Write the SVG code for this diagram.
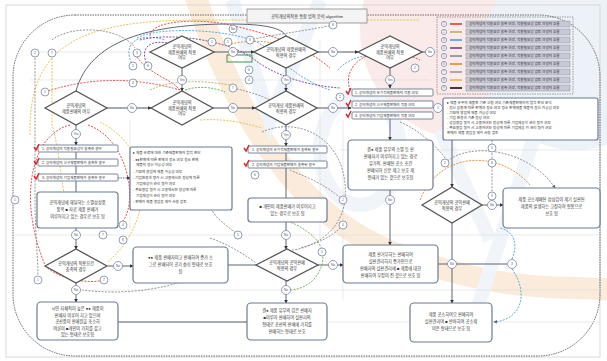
<svg xmlns="http://www.w3.org/2000/svg" width="607" height="361" viewBox="0 0 607 361">
<defs>
<marker id="ah" viewBox="0 0 6 6" refX="5" refY="3" markerWidth="4" markerHeight="4" orient="auto"><path d="M0,0 L6,3 L0,6 z" fill="#333"/></marker>
<marker id="ahg" viewBox="0 0 6 6" refX="5" refY="3" markerWidth="4" markerHeight="4" orient="auto"><path d="M0,0 L6,3 L0,6 z" fill="#666"/></marker>
<style>
.t{font-family:"Liberation Sans","Noto Sans CJK KR",sans-serif;font-size:4.2px;fill:#333;text-anchor:middle}
.ts{font-family:"Liberation Sans","Noto Sans CJK KR",sans-serif;font-size:3.6px;fill:#333}
.tc{font-family:"Liberation Sans","Noto Sans CJK KR",sans-serif;font-size:3.2px;fill:#556;text-anchor:middle}
.dia{fill:#fff;stroke:#555;stroke-width:1.3}
.box{fill:#fff;stroke:#6b7a90;stroke-width:1.2}
.chk{fill:#fff;stroke:#6b7a90;stroke-width:0.9}
.cir{fill:#fff;stroke:#7a88a6;stroke-width:0.8}
.ln{fill:none;stroke:#4a5568;stroke-width:0.9}
.gl{fill:none;stroke:#dcdcdc;stroke-width:0.6}
.d{fill:none;stroke-width:0.9;stroke-dasharray:2,1.3}
.red{stroke:#e03c3c}.yel{stroke:#e0c040}.blu{stroke:#4aa0d8}.pur{stroke:#7a3a9a}.gry{stroke:#8a8a8a}.org{stroke:#e8842c}.grn{stroke:#6aa84f}.kha{stroke:#b8b060}
.leg{fill:#c9c9d4;stroke:#8a8aa6;stroke-width:0.5}
.ck{fill:none;stroke:#d42a2a;stroke-width:1.4}
</style>
</defs>
<rect x="0" y="0" width="607" height="361" fill="#fff"/>
<!-- watermark shapes -->
<g id="watermark" opacity="0.4">
<circle cx="470" cy="30" r="110" fill="#f4cccc"/>
<circle cx="575" cy="55" r="95" fill="#d3e0f0"/>
<path d="M195,-5 C230,100 290,215 400,255 S560,285 612,290" fill="none" stroke="#f6cfa4" stroke-width="22"/>
<path d="M232,0 L270,120 L320,0" fill="none" stroke="#d8e5f3" stroke-width="14"/>
<ellipse cx="360" cy="150" rx="40" ry="55" fill="none" stroke="#dde8f4" stroke-width="14"/>
<path d="M440,130 L490,240 M540,120 L470,330" fill="none" stroke="#dde8f4" stroke-width="14"/>
</g>
<!-- frame -->
<rect x="6" y="5" width="594" height="352" fill="none" stroke="#cfcfcf" stroke-width="0.8"/>
<rect x="13" y="15" width="587" height="341" rx="62" fill="none" stroke="#666" stroke-width="1" stroke-dasharray="1.5,1"/>
<!-- guide lines -->
<g id="guides">
<path class="gl" d="M30,52 L440,52 M100,108 L350,108 M30,80 L430,80 M130,120 L130,230 M343,120 L343,300 M320,40 L320,240 M120,322 L600,322 M90,290 L600,290 M15,235 L600,235 M340,150 L600,150"/>
</g>
<!-- connectors -->
<g id="connectors">
<path class="ln" d="M182,68 L182,91" marker-end="url(#ah)"/>
<path class="ln" d="M286,68 L286,91" marker-end="url(#ah)"/>
<path class="ln" d="M390,68 L390,88" marker-end="url(#ah)"/>
<path class="ln" d="M214,52 L254,52" marker-end="url(#ah)"/>
<path class="ln" d="M318,52 L358,52" marker-end="url(#ah)"/>
<path class="ln" d="M422,52 L426,52"/>
<path class="ln" d="M107,108 L151,108" marker-end="url(#ah)"/>
<path class="ln" d="M213,108 L255,108" marker-end="url(#ah)"/>
<path class="ln" d="M317,108 L351,108" marker-end="url(#ah)"/>
<path class="ln" d="M76,125 L76,145" marker-end="url(#ah)"/>
<path class="ln" d="M76,152 L76,159 M76,166 L76,174 M76,181 L76,192"/>
<path class="ln" d="M76,228 L76,249" marker-end="url(#ah)"/>
<path class="ln" d="M76,282 L76,302" marker-end="url(#ah)"/>
<path class="ln" d="M108,266 L133,266" marker-end="url(#ah)"/>
<path class="ln" d="M118,178 L130,178" stroke-dasharray="1.5,1" marker-end="url(#ah)"/>
<path class="ln" d="M286,125 L286,146" marker-end="url(#ah)"/>
<path class="ln" d="M286,153 L286,161 M286,168 L286,198"/>
<path class="ln" d="M286,222 L286,249" marker-end="url(#ah)"/>
<path class="ln" d="M286,281 L286,303" marker-end="url(#ah)"/>
<path class="ln" d="M318,265 L343,265" marker-end="url(#ah)"/>
<path class="ln" d="M228,265 L256,265"/>
<path class="ln" d="M390,118 L390,140" marker-end="url(#ah)"/>
<path class="ln" d="M390,190 L390,245" marker-end="url(#ah)"/>
<path class="ln" d="M433,108 L443,108" marker-end="url(#ah)"/>
<path class="ln" d="M452,140 L452,187" marker-end="url(#ah)"/>
<path class="ln" d="M482,205 L503,205" marker-end="url(#ah)"/>
<path class="ln" d="M452,223 L452,303" marker-end="url(#ah)"/>
<path class="ln" d="M438,264 L507,264" stroke="#aaa"/>
<path class="ln" d="M118,322 L247,322" stroke="#bbb"/>
<path class="ln" d="M76,91 C90,40 150,24 230,24 C265,24 282,28 286,36" stroke="#6d85a8" stroke-width="1"/>
<!-- dashed curves -->
<path class="d red" d="M45,92 Q110,70 180,90"/>
<path class="d red" d="M137,57 C150,75 170,78 180,90"/>
<path class="d red" d="M70,125 C30,135 18,200 45,265"/>
<path class="d red" d="M88,125 C130,140 138,205 122,222"/>
<path class="d red" d="M45,266 C60,280 90,284 104,280"/>
<path class="d red" d="M150,36 C150,20 200,18 230,25 C260,32 300,42 330,68"/>
<path class="d yel" d="M30,135 C28,45 80,20 200,20 L420,20"/>
<path class="d yel" d="M108,262 C155,220 155,150 100,122"/>
<path class="d yel" d="M52,58 L52,125 C60,150 62,200 70,215"/>
<path class="d yel" d="M200,120 C230,118 250,125 262,128"/>
<path class="d blu" d="M133,66 C120,42 140,32 165,40"/>
<path class="d blu" d="M137,38 C160,25 240,30 262,45 C280,60 300,80 330,90"/>
<path class="d blu" d="M512,269 C530,295 520,320 494,322" marker-end="url(#ahg)"/>
<path class="d blu" d="M512,259 C520,240 510,230 500,228"/>
<path class="d pur" d="M148,66 C138,48 150,38 172,44"/>
<path class="d pur" d="M140,40 C170,32 230,40 255,60 C270,72 300,85 340,88"/>
<path class="d gry" d="M35,58 L35,200 C35,230 38,260 38,275"/>
<path class="d gry" d="M52,40 C70,25 120,26 135,48"/>
<path class="d gry" d="M262,132 C300,115 350,140 345,200 C340,240 300,250 292,250"/>
<path class="d gry" d="M210,238 C230,245 245,255 256,263"/>
<path class="d gry" d="M238,235 C220,220 210,215 210,200"/>
<path class="d gry" d="M82,290 C120,295 180,292 220,262"/>
<path class="d gry" d="M445,163 C470,140 530,150 555,188" marker-end="url(#ahg)"/>
<path class="d gry" d="M400,122 C420,130 440,150 445,158"/>
<path class="d gry" d="M492,140 L492,200"/>
<path class="d gry" d="M343,200 C320,180 300,175 290,170"/>
<path class="d gry" d="M343,225 C330,240 310,245 300,248"/>
<path class="d gry" d="M233,88 C250,92 260,95 270,100"/>
<path class="d gry" d="M250,40 C270,35 300,32 333,25"/>
<path class="d org" d="M420,200 C440,150 500,150 530,185"/>
<path class="d org" d="M228,45 C245,40 265,40 280,45"/>
<path class="d grn" d="M290,290 C318,288 326,262 322,250 C318,236 300,226 290,222"/>
<path class="d grn" d="M185,90 C200,85 215,88 225,92"/>
<path class="d kha" d="M150,90 C170,80 200,80 230,85"/>
<path class="d red" d="M350,90 C340,60 380,40 420,60"/>
<path class="d blu" d="M338,70 C350,55 380,50 400,60"/>
</g>
<rect x="227" y="55" width="25" height="7" fill="none" stroke="#2e8b3a" stroke-width="0.9"/>
<!-- title -->
<g id="title">
<rect x="247" y="9" width="120" height="14" fill="#f4f4f4" stroke="#888" stroke-width="0.8"/>
<text class="t" x="307" y="17.5">공익개념의적용 통합 법적 분석 algorithm</text>
</g>
<!-- legend -->
<g id="legend">
<rect x="437" y="17" width="136" height="77" fill="none" stroke="#777" stroke-width="0.7" stroke-dasharray="1.5,1"/>
<g>
<circle class="cir" cx="444" cy="24" r="2.6"/><text class="tc" x="444" y="25.1">1</text><line x1="450" y1="24" x2="462" y2="24" stroke="#e03c3c" stroke-width="1.6"/><rect class="leg" x="466" y="21" width="104" height="6"/><text class="ts" x="469" y="25.2">공익개념의 적용요건 충족 여부, 적용필요성 검토 과정의 흐름</text>
<circle class="cir" cx="444" cy="32" r="2.6"/><text class="tc" x="444" y="33.1">2</text><line x1="450" y1="32" x2="462" y2="32" stroke="#b8b060" stroke-width="1.6"/><rect class="leg" x="466" y="29" width="104" height="6"/><text class="ts" x="469" y="33.2">공익개념의 적용요건 충족 여부, 적용필요성 검토 과정의 흐름</text>
<circle class="cir" cx="444" cy="40" r="2.6"/><text class="tc" x="444" y="41.1">3</text><line x1="450" y1="40" x2="462" y2="40" stroke="#4aa0d8" stroke-width="1.6"/><rect class="leg" x="466" y="37" width="104" height="6"/><text class="ts" x="469" y="41.2">공익개념의 적용요건 충족 여부, 적용필요성 검토 과정의 흐름</text>
<circle class="cir" cx="444" cy="48" r="2.6"/><text class="tc" x="444" y="49.1">4</text><line x1="450" y1="48" x2="462" y2="48" stroke="#7a3a9a" stroke-width="1.6"/><rect class="leg" x="466" y="45" width="104" height="6"/><text class="ts" x="469" y="49.2">공익개념의 적용요건 충족 여부, 적용필요성 검토 과정의 흐름</text>
<circle class="cir" cx="444" cy="56" r="2.6"/><text class="tc" x="444" y="57.1">5</text><line x1="450" y1="56" x2="462" y2="56" stroke="#8a8a8a" stroke-width="1.6"/><rect class="leg" x="466" y="53" width="104" height="6"/><text class="ts" x="469" y="57.2">공익개념의 적용요건 충족 여부, 적용필요성 검토 과정의 흐름</text>
<circle class="cir" cx="444" cy="64" r="2.6"/><text class="tc" x="444" y="65.1">6</text><line x1="450" y1="64" x2="462" y2="64" stroke="#e8842c" stroke-width="1.6"/><rect class="leg" x="466" y="61" width="104" height="6"/><text class="ts" x="469" y="65.2">공익개념의 적용요건 충족 여부, 적용필요성 검토 과정의 흐름</text>
<circle class="cir" cx="444" cy="72" r="2.6"/><text class="tc" x="444" y="73.1">7</text><line x1="450" y1="72" x2="462" y2="72" stroke="#999" stroke-width="1.6"/><rect class="leg" x="466" y="69" width="104" height="6"/><text class="ts" x="469" y="73.2">공익개념의 적용요건 충족 여부, 적용필요성 검토 과정의 흐름</text>
<circle class="cir" cx="444" cy="80" r="2.6"/><text class="tc" x="444" y="81.1">8</text><line x1="450" y1="80" x2="462" y2="80" stroke="#e0c040" stroke-width="1.6"/><rect class="leg" x="466" y="77" width="104" height="6"/><text class="ts" x="469" y="81.2">공익개념의 적용요건 충족 여부, 적용필요성 검토 과정의 흐름</text>
<circle class="cir" cx="444" cy="88" r="2.6"/><text class="tc" x="444" y="89.1">9</text><line x1="450" y1="88" x2="462" y2="88" stroke="#111" stroke-width="1.6"/><rect class="leg" x="466" y="85" width="104" height="6"/><text class="ts" x="469" y="89.2">공익개념의 적용요건 충족 여부, 적용필요성 검토 과정의 흐름</text>
</g>
</g>
<!-- diamonds -->
<g id="D1"><polygon class="dia" points="150,52 182,36 214,52 182,68"/><text class="t" x="182" y="48">공익개념의</text><text class="t" x="182" y="53.5">제품판매의 적용</text><text class="t" x="182" y="59">여부</text></g>
<g id="D2"><polygon class="dia" points="254,52 286,36 318,52 286,68"/><text class="t" x="286" y="51">공익개념의 제품판매의</text><text class="t" x="286" y="56.5">적용의 경우</text></g>
<g id="D3"><polygon class="dia" points="358,52 390,36 422,52 390,68"/><text class="t" x="390" y="48">공익개념의</text><text class="t" x="390" y="53.5">제품판매의 적용</text><text class="t" x="390" y="59">여부</text></g>
<g id="D4"><polygon class="dia" points="45,108 76,91 107,108 76,125"/><text class="t" x="76" y="107">공익개념의</text><text class="t" x="76" y="112.5">제품판매의 여부</text></g>
<g id="D5"><polygon class="dia" points="151,108 182,91 213,108 182,125"/><text class="t" x="182" y="104">공익개념의</text><text class="t" x="182" y="109.5">제품판매의 적용</text><text class="t" x="182" y="115">여부</text></g>
<g id="D6"><polygon class="dia" points="255,108 286,91 317,108 286,125"/><text class="t" x="286" y="107">공익개념 제품판매의</text><text class="t" x="286" y="112.5">적용의 경우</text></g>
<g id="D8"><polygon class="dia" points="422,205 452,187 482,205 452,223"/><text class="t" x="452" y="204">공익개념의 공익판매</text><text class="t" x="452" y="209.5">적용의 경우</text></g>
<g id="D9"><polygon class="dia" points="45,266 76,249 107,266 76,283"/><text class="t" x="76" y="265">공익개념의 적용요건</text><text class="t" x="76" y="270.5">충족의 경우</text></g>
<g id="D10"><polygon class="dia" points="256,265 287,249 318,265 287,281"/><text class="t" x="287" y="264">공익개념의 공익판매</text><text class="t" x="287" y="269.5">적용의 경우</text></g>
<!-- checklists -->
<g id="checkL">
<rect class="chk" x="38" y="145" width="80" height="7" rx="1"/><text class="ts" x="42" y="149.8">1. 공익개념의 적용필요성이 충족한 경우</text>
<rect class="chk" x="38" y="159" width="80" height="7" rx="1"/><text class="ts" x="42" y="163.8">2. 공익개념의 신구제품판매가 충족한 경우</text>
<rect class="chk" x="38" y="174" width="80" height="7" rx="1"/><text class="ts" x="42" y="178.8">3. 공익개념의 기업제품판매가 충족한 경우</text>
<path class="ck" d="M34,147 l2,3 l3,-6 M34,161 l2,3 l3,-6 M34,176 l2,3 l3,-6"/>
</g>
<g id="checkM">
<rect class="chk" x="248" y="146" width="79" height="7" rx="1"/><text class="ts" x="252" y="150.8">1. 공익개념의 유기적제품판매가 충족된 경우</text>
<rect class="chk" x="248" y="161" width="79" height="7" rx="1"/><text class="ts" x="252" y="165.8">2. 공익개념의 기업제품판매가 충족된 경우</text>
<path class="ck" d="M244,148 l2,3 l3,-6 M244,163 l2,3 l3,-6"/>
</g>
<g id="checkR">
<rect class="chk" x="352" y="89" width="81" height="7" rx="1"/><text class="ts" x="355" y="93.8">1. 공익개념의 유기적제품판매의 적용 여부</text>
<rect class="chk" x="352" y="101" width="81" height="7" rx="1"/><text class="ts" x="355" y="105.8">2. 공익개념의 신구제품판매의 적용 여부</text>
<rect class="chk" x="352" y="112" width="81" height="7" rx="1"/><text class="ts" x="355" y="116.8">3. 공익개념의 기업제품판매의 적용 여부</text>
<path class="ck" d="M346,91 l2,3 l3,-6 M346,103 l2,3 l3,-6 M346,114 l2,3 l3,-6"/>
</g>
<!-- boxes -->
<g id="boxL1"><rect class="box" x="37" y="192" width="81" height="36" rx="3"/><text class="t" x="77.5" y="204">공익개념에 해당하는 소멸성상품</text><text class="t" x="77.5" y="211">품목 ■ 자료 제품 판매가</text><text class="t" x="77.5" y="218">이루어지고 있는 경우로 보호 됨</text></g>
<g id="bulletL"><rect class="box" x="130" y="147" width="102" height="63" rx="2" stroke-width="0.9"/>
<text class="ts" x="133" y="154">▸ 제품 유료에 대한 기준제품판매자 법적 판단</text>
<text class="ts" x="133" y="160.5">- ●●판매에 따른 판매와 정소 여부 정소 판매</text>
<text class="ts" x="136" y="166">제품의 정신 가능성 여부</text>
<text class="ts" x="133" y="172.5">- 기원에 영업에 제품 가능성 여부</text>
<text class="ts" x="133" y="179">- 기업환경과 평가 시 고용에서진 정상에 따른</text>
<text class="ts" x="136" y="184.5">기업제공이 관리 평가 여부</text>
<text class="ts" x="133" y="191">- 주요영업 평가 시 고용에서진 정상에 따른</text>
<text class="ts" x="136" y="196.5">기업제공이 관리 평가 여부</text>
<text class="ts" x="133" y="203">- 판매자 제품 영업을 제외 사항 검토</text></g>
<g id="boxM1"><rect class="box" x="248" y="198" width="79" height="24" rx="3"/><text class="t" x="287.5" y="208">■ 개인이 제품판매가 이루어지고</text><text class="t" x="287.5" y="215">있는 경우로 보호 됨</text></g>
<g id="boxR1"><rect class="box" x="348" y="140" width="85" height="50" rx="4"/><text class="t" x="390.5" y="151">결● 제품 유무의 소멸 등 판</text><text class="t" x="390.5" y="158">판매자가 이루어지고 있는 경로</text><text class="t" x="390.5" y="165">유가적, 판매된 공소 조건</text><text class="t" x="390.5" y="172">판매되어 신분 제고 보호 제</text><text class="t" x="390.5" y="179">형태가 있는 것으로 보호됨</text></g>
<g id="bulletR"><rect class="box" x="443" y="98" width="155" height="42" rx="2" stroke-width="0.9"/>
<text class="ts" x="447" y="104">▸ 제품 유무의 제품판 기준 신청 여부 기준제품판매자의 법적 판단 분석</text>
<text class="ts" x="447" y="109">- 정신 공용에 따른 판매와 정소 여부 정소 판매제품 제품의 정신 가능성 여부</text>
<text class="ts" x="447" y="114">- 기원에 영업에 제품 가능성 여부</text>
<text class="ts" x="447" y="119">- 기업 환경과 기준 정상 여부</text>
<text class="ts" x="447" y="124">- 상업영업 평가 시 고용하여진 정상에 따른 기업제공이 관리 평가 여부</text>
<text class="ts" x="447" y="129">- 주요영업 평가 시 고용하여진 정상에 따른 기업제공 가 관리 평가 여부</text>
<text class="ts" x="447" y="134">판매자 제품 영업을 제외 사항 검토</text></g>
<g id="boxRR"><rect class="box" x="503" y="188" width="97" height="40" rx="4"/><text class="t" x="551.5" y="201">제품 공소제배된 삼성감이 제기 실판된</text><text class="t" x="551.5" y="208">제품의 발생하는 고정하여 형함으로</text><text class="t" x="551.5" y="215">보호 됨</text></g>
<g id="boxL2"><rect class="box" x="133" y="247" width="95" height="36" rx="4"/><text class="t" x="180.5" y="259">●● 제품 판매자이고 판매하여 증가 소</text><text class="t" x="180.5" y="266">그로 판매되어 공기 숨쉬 형태로 보호</text><text class="t" x="180.5" y="273">됨</text></g>
<g id="boxR2"><rect class="box" x="343" y="245" width="95" height="38" rx="4"/><text class="t" x="390.5" y="256">제품 판거부하는 판매하여</text><text class="t" x="390.5" y="263">실판관리하지 증가인으로</text><text class="t" x="390.5" y="270">판매자의 실판관리에 ■ 제품에 대한</text><text class="t" x="390.5" y="277">판매하여 부정이 진 것으로 보호 됨</text></g>
<g id="boxL3"><rect class="box" x="37" y="302" width="81" height="38" rx="4"/><text class="t" x="77.5" y="310">시민 자체적이 높은 ●● 제품이</text><text class="t" x="77.5" y="316.5">판매자 이루어 지고 있으며</text><text class="t" x="77.5" y="323">공산품이 판매원을 조소하</text><text class="t" x="77.5" y="329.5">여론이 ■개인이 가치를 갖고</text><text class="t" x="77.5" y="336">있는 형태로 보호됨</text></g>
<g id="boxM3"><rect class="box" x="247" y="303" width="80" height="37" rx="4"/><text class="t" x="287" y="312">결● 제품 유무의 김은 판매자</text><text class="t" x="287" y="319">■이루어 판매하여 실판리의</text><text class="t" x="287" y="326">형태로 공산의 판매에 가치를</text><text class="t" x="287" y="333">판매하는 형태로 보호</text></g>
<g id="boxR3"><rect class="box" x="410" y="303" width="82" height="39" rx="4"/><text class="t" x="451" y="316">제품 공소하여오 판매하여</text><text class="t" x="451" y="323">실판관리여 ■ 반좌하여 공소제</text><text class="t" x="451" y="330">이온 형태으로 보호 됨</text></g>
<!-- circle nodes -->
<g id="nodes">
<circle class="cir" cx="182" cy="80" r="4.5"/><text class="tc" x="182" y="81.1">Yes</text>
<circle class="cir" cx="286" cy="80" r="4.5"/><text class="tc" x="286" y="81.1">Yes</text>
<circle class="cir" cx="390" cy="80" r="4.5"/><text class="tc" x="390" y="81.1">Yes</text>
<circle class="cir" cx="233" cy="52" r="4.5"/><text class="tc" x="233" y="53.1">No</text>
<circle class="cir" cx="333" cy="52" r="4.5"/><text class="tc" x="333" y="53.1">No</text>
<circle class="cir" cx="430" cy="52" r="4.5"/><text class="tc" x="430" y="53.1">No</text>
<circle class="cir" cx="132" cy="108" r="4.5"/><text class="tc" x="132" y="109.1">No</text>
<circle class="cir" cx="233" cy="108" r="4.5"/><text class="tc" x="233" y="109.1">No</text>
<circle class="cir" cx="333" cy="108" r="4.5"/><text class="tc" x="333" y="109.1">No</text>
<circle class="cir" cx="76" cy="134" r="4.5"/><text class="tc" x="76" y="135.1">Yes</text>
<circle class="cir" cx="286" cy="135" r="4.5"/><text class="tc" x="286" y="136.1">Yes</text>
<circle class="cir" cx="76" cy="235" r="4.5"/><text class="tc" x="76" y="236.1">No</text>
<circle class="cir" cx="76" cy="290" r="4.5"/><text class="tc" x="76" y="291.1">No</text>
<circle class="cir" cx="118" cy="266" r="4.5"/><text class="tc" x="118" y="267.1">No</text>
<circle class="cir" cx="286" cy="235" r="4.5"/><text class="tc" x="286" y="236.1">No</text>
<circle class="cir" cx="286" cy="290" r="4.5"/><text class="tc" x="286" y="291.1">No</text>
<circle class="cir" cx="333" cy="265" r="4.5"/><text class="tc" x="333" y="266.1">No</text>
<circle class="cir" cx="390" cy="200" r="4.5"/><text class="tc" x="390" y="201.1">No</text>
<circle class="cir" cx="438" cy="108" r="4.5"/><text class="tc" x="438" y="109.1">1</text>
<circle class="cir" cx="492" cy="205" r="4.5"/><text class="tc" x="492" y="206.1">No</text>
<circle class="cir" cx="452" cy="264" r="4.5"/><text class="tc" x="452" y="265.1">No</text>
<circle class="cir" cx="512" cy="264" r="4.5"/><text class="tc" x="512" y="265.1">3</text>
<circle class="cir" cx="35" cy="53" r="4"/><text class="tc" x="35" y="54.1">2</text>
<circle class="cir" cx="52" cy="53" r="4"/><text class="tc" x="52" y="54.1">7</text>
<circle class="cir" cx="137" cy="53" r="4"/><text class="tc" x="137" y="54.1">3</text>
<circle class="cir" cx="133" cy="66" r="4"/><text class="tc" x="133" y="67.1">5</text>
<circle class="cir" cx="148" cy="66" r="4"/><text class="tc" x="148" y="67.1">6</text>
<circle class="cir" cx="133" cy="83" r="4"/><text class="tc" x="133" y="84.1">4</text>
<circle class="cir" cx="45" cy="92" r="4"/><text class="tc" x="45" y="93.1">1</text>
<circle class="cir" cx="233" cy="29" r="4"/><text class="tc" x="233" y="30.1">No</text>
<circle class="cir" cx="212" cy="42" r="4"/><text class="tc" x="212" y="43.1">2</text>
<circle class="cir" cx="228" cy="42" r="4"/><text class="tc" x="228" y="43.1">5</text>
<circle class="cir" cx="250" cy="40" r="4"/><text class="tc" x="250" y="41.1">3</text>
<circle class="cir" cx="249" cy="70" r="4"/><text class="tc" x="249" y="71.1">6</text>
<circle class="cir" cx="249" cy="80" r="4"/><text class="tc" x="249" y="81.1">4</text>
<circle class="cir" cx="233" cy="88" r="4"/><text class="tc" x="233" y="89.1">7</text>
<circle class="cir" cx="333" cy="25" r="4"/><text class="tc" x="333" y="26.1">8</text>
<circle class="cir" cx="415" cy="68" r="4"/><text class="tc" x="415" y="69.1">2</text>
<circle class="cir" cx="340" cy="97" r="4"/><text class="tc" x="340" y="98.1">2</text>
<circle class="cir" cx="15" cy="200" r="4"/><text class="tc" x="15" y="201.1">1</text>
<circle class="cir" cx="103" cy="235" r="4"/><text class="tc" x="103" y="236.1">7</text>
<circle class="cir" cx="123" cy="225" r="4"/><text class="tc" x="123" y="226.1">4</text>
<circle class="cir" cx="123" cy="240" r="4"/><text class="tc" x="123" y="241.1">8</text>
<circle class="cir" cx="255" cy="175" r="4"/><text class="tc" x="255" y="176.1">6</text>
<circle class="cir" cx="238" cy="235" r="4"/><text class="tc" x="238" y="236.1">5</text>
<circle class="cir" cx="343" cy="200" r="4"/><text class="tc" x="343" y="201.1">2</text>
<circle class="cir" cx="343" cy="225" r="4"/><text class="tc" x="343" y="226.1">4</text>
<circle class="cir" cx="38" cy="280" r="4"/><text class="tc" x="38" y="281.1">1</text>
<circle class="cir" cx="104" cy="280" r="4"/><text class="tc" x="104" y="281.1">7</text>
<circle class="cir" cx="322" cy="252" r="4"/><text class="tc" x="322" y="253.1">5</text>
<circle class="cir" cx="492" cy="148" r="4"/><text class="tc" x="492" y="149.1">5</text>
<circle class="cir" cx="492" cy="163" r="4"/><text class="tc" x="492" y="164.1">6</text>
<circle class="cir" cx="445" cy="163" r="4"/><text class="tc" x="445" y="164.1">2</text>
<circle class="cir" cx="492" cy="196" r="4"/><text class="tc" x="492" y="197.1">3</text>
</g>
</svg>
